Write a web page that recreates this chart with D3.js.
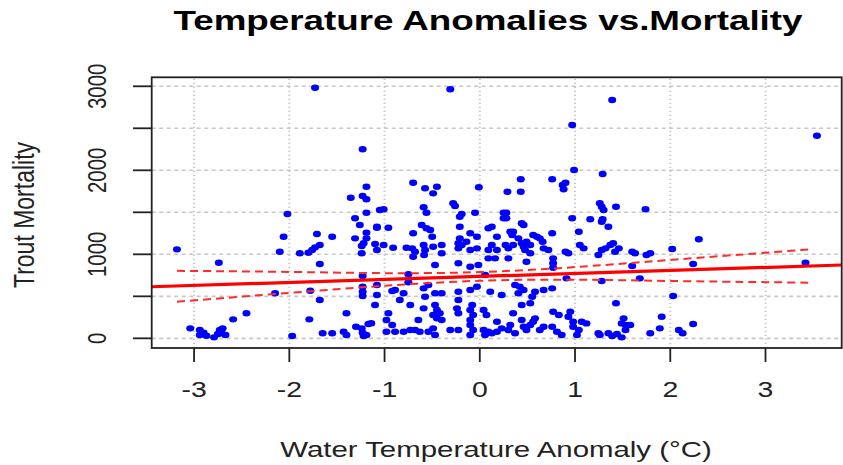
<!DOCTYPE html>
<meta charset="utf-8">
<html>
<head>
<style>
  body { margin: 0; background: #fff; }
  text { font-family: "Liberation Sans", Arial, sans-serif; fill: #000; }
</style>
</head>
<body>
<div id="chart"></div>
<script src="https://d3js.org/d3.v7.min.js"></script>
<script>

  var anomaly = [
    -1.73, -1.23, -1.19, -1.355, -1.23, -1.19, -1.19, -2.02, -1.31, -1.05,
    -0.31, 0.97, 1.39, 0.99, 1.29, -0.70, -0.575, -0.49, -0.45, -0.01,
    0.29, 0.43, 0.43, 0.76, 0.87, 0.88, 0.90, -1.01, -0.59, -0.56,
    -0.28, -0.26, -0.19, -0.21, -0.05, 0.25, 0.28, 0.25, 0.28, 0.97,
    1.16, 1.26, 1.28, 1.30, 3.54, 1.43, 1.74, 1.29, -1.26, -1.08,
    -1.19, -1.31, -1.19, -1.22, -1.24, -1.10, -1.08, -1.24, -1.71, -1.55,
    -2.06, -2.10, -1.89, -1.80, -1.76, -1.73, -1.68, -1.68, -3.18, -2.74,
    -1.23, -1.23, -1.23, -1.23, -1.08, -1.10, -2.15, -1.78, -1.68, -2.45,
    -2.59, -3.04, -2.94, -2.90, -2.94, -2.87, -2.79, -2.73, -2.70, -2.75,
    -2.67, -2.71, -1.97, -1.79, -1.40, -1.65, -1.55, -1.43, -1.40, -1.30,
    -1.24, -1.17, -1.23, -1.19, -1.22, -1.08, -0.96, -0.70, -0.61, -0.56,
    -0.52, -0.50, -1.01, -0.91, -0.77, -0.71, -0.68, -0.70, -0.59, -0.575,
    -0.585, -0.49, -0.40, -0.40, -0.47, -0.225, -0.19, -0.14, -0.225, -0.21,
    -0.10, -0.03, -0.21, -0.10, -0.03, -0.225, -0.10, 0.09, 0.09, 0.09,
    -0.015, 0.056, -0.75, -0.75, -1.08, -0.92, -0.89, -0.80, -0.59, -0.54,
    -0.47, -0.40, -0.575, -0.225, -0.10, -0.03, -0.225, -0.84, -0.73, -0.59,
    -0.47, -0.45, -0.42, -0.49, -0.45, -0.40, -0.24, -0.225, -0.08, -0.10,
    -0.07, -0.10, 0.04, 0.07, -0.96, -0.98, -0.92, -0.98, -0.89, -0.80,
    -0.73, -0.68, -0.63, -0.54, -0.49, -0.47, -0.645, -0.31, -0.225, -0.10,
    -0.07, -0.10, 0.04, 0.09, 0.055, 0.126, -1.14, 0.126, 0.44, 0.46,
    0.32, 0.35, 0.34, 0.18, 0.126, 0.27, 0.30, 0.35, 0.18, 0.16,
    0.405, 0.44, 0.46, 0.49, 0.53, 0.475, 0.56, 0.60, 0.63, 0.66,
    0.76, 0.67, 0.72, 0.53, 0.30, 0.49, 0.77, 0.77, 0.77, 1.04,
    1.28, 1.35, 1.05, 1.09, 0.90, 0.93, 1.28, 1.32, 1.37, 1.40,
    1.245, 0.91, 1.28, 0.11, 0.23, 0.37, 0.42, 0.46, 0.405, 0.58,
    0.67, 0.76, 0.44, 0.53, 0.55, 0.35, 0.18, 0.23, 0.18, 0.32,
    0.30, 0.37, 0.44, 0.46, 0.49, 0.53, 0.58, 0.56, 0.63, 0.67,
    0.77, 0.83, 0.76, 0.81, 0.86, 0.95, 0.93, 0.98, 0.98, 1.04,
    1.02, 1.07, 1.12, 1.245, 1.35, 2.30, 1.46, 1.42, 1.60, 1.63,
    1.75, 1.79, 2.02, 1.60, 1.68, 2.24, 3.42, 2.03, 1.43, 1.51,
    1.49, 1.53, 1.58, 1.53, 1.26, 1.39, 1.44, 1.49, 1.79, 1.89,
    1.91, 2.09, 2.13, 2.24
  ];

  // Trout mortality for the same observations
  var mortality = [
    2983, 2250, 1805, 1674, 1694, 1655, 1495, 1480, 1429, 1527,
    2964, 2539, 2837, 2004, 1956, 1852, 1786, 1726, 1805, 1798,
    1745, 1893, 1745, 1893, 1825, 1774, 1852, 1536, 1560, 1495,
    1607, 1575, 1480, 1448, 1495, 1495, 1495, 1429, 1429, 1429,
    1417, 1607, 1567, 1527, 2412, 1567, 1536, 1417, 1349, 1329,
    1257, 1190, 1190, 1131, 1099, 1123, 1051, 1012, 1242, 1210,
    1210, 1031, 1012, 1019, 1051, 1083, 1111, 885, 1059, 900,
    742, 614, 555, 504, 516, 396, 536, 567, 456, 298,
    226, 119, 99, 67, 39, 31, 12, 99, 119, 51,
    39, 60, 27, 226, 298, 60, 60, 79, 39, 138,
    119, 170, 67, 39, 27, 1317, 1317, 1250, 1349, 1310,
    1289, 1210, 1111, 1079, 1079, 1071, 1031, 971, 1111, 1051,
    992, 1091, 1111, 1012, 873, 1131, 1111, 1150, 1071, 1190,
    1250, 1210, 1329, 1051, 1071, 893, 852, 1310, 1051, 952,
    873, 754, 762, 667, 635, 563, 575, 536, 595, 635,
    536, 536, 495, 555, 575, 614, 456, 456, 396, 357,
    396, 337, 298, 277, 238, 218, 357, 298, 396, 337,
    277, 218, 337, 277, 298, 218, 158, 79, 79, 79,
    99, 99, 79, 79, 119, 39, 218, 99, 99, 158,
    99, 39, 99, 79, 39, 60, 180, 1329, 1369, 1349,
    1269, 1269, 1230, 1210, 1111, 1111, 1071, 1111, 1051, 952,
    1190, 1131, 1091, 1150, 1111, 1051, 1230, 1210, 1190, 1150,
    1250, 1071, 1051, 1012, 952, 912, 952, 893, 840, 1269,
    1388, 1329, 1111, 1071, 1031, 1012, 1051, 1071, 1111, 1131,
    992, 714, 682, 555, 516, 635, 614, 575, 536, 555,
    575, 595, 396, 417, 495, 298, 198, 119, 79, 158,
    99, 60, 218, 138, 99, 158, 238, 198, 99, 138,
    317, 277, 138, 79, 39, 317, 257, 198, 138, 99,
    39, 198, 178, 60, 60, 1179, 1071, 1031, 1031, 1012,
    992, 1012, 1063, 861, 714, 885, 900, 504, 417, 238,
    178, 158, 158, 99, 39, 27, 51, 12, 60, 119,
    257, 99, 60, 170
  ];

  var xTicks = [-3, -2, -1, 0, 1, 2, 3];
  var yTicks = [0, 500, 1000, 1500, 2000, 2500, 3000];
  var yLabels = [0, 1000, 2000, 3000];

  // fitted line and its confidence band
  var fitIntercept = 737, fitSlope = 35.7;
  var bandX     = [-3.18, -2, -1, 0, 1, 2, 3, 3.5];
  var bandUpper = [803, 791, 776, 789, 848, 933, 1019, 1062];
  var bandLower = [436, 541, 626, 685, 698, 683, 669, 662];

  var W = 843, H = 465;
  var sx = 1.29;   // the picture is stretched sideways, text too

  var svg = d3.select("#chart")
    .append("svg")
      .attr("width", W)
      .attr("height", H);

  svg.append("rect").attr("width", W).attr("height", H).attr("fill", "#fff");

  var x = d3.scaleLinear().domain([-3.445, 3.80]).range([151.7, 841.7]);
  var y = d3.scaleLinear().domain([-115, 3107]).range([348, 77.3]);

  // grid
  svg.append("g").selectAll("line").data(yTicks).enter().append("line")
    .attr("x1", x.range()[0]).attr("x2", x.range()[1])
    .attr("y1", function(d) { return y(d); }).attr("y2", function(d) { return y(d); })
    .attr("stroke", "#c8c8c8").attr("stroke-width", 1.6)
    .attr("stroke-dasharray", "4,3.5");

  svg.append("g").selectAll("line").data(xTicks).enter().append("line")
    .attr("x1", function(d) { return x(d); }).attr("x2", function(d) { return x(d); })
    .attr("y1", y.range()[0]).attr("y2", y.range()[1])
    .attr("stroke", "#c8c8c8").attr("stroke-width", 2)
    .attr("stroke-dasharray", "1.3,2.7");

  // points
  var pts = anomaly.map(function(d, i) { return {a: d, m: mortality[i]}; });
  svg.append("g").selectAll("ellipse").data(pts).enter().append("ellipse")
    .attr("cx", function(d) { return x(d.a); })
    .attr("cy", function(d) { return y(d.m); })
    .attr("rx", 4).attr("ry", 3.2)
    .attr("fill", "#0000ff");

  // regression line
  var xd = x.domain();
  svg.append("line")
    .attr("x1", x(xd[0])).attr("y1", y(fitIntercept + fitSlope * xd[0]))
    .attr("x2", x(xd[1])).attr("y2", y(fitIntercept + fitSlope * xd[1]))
    .attr("stroke", "#ff0000").attr("stroke-width", 3.2);

  // confidence band
  [bandUpper, bandLower].forEach(function(arr) {
    svg.append("path")
      .datum(bandX.map(function(d, i) { return [d, arr[i]]; }))
      .attr("fill", "none")
      .attr("stroke", "#ff2a2a")
      .attr("stroke-width", 2)
      .attr("stroke-dasharray", "8,5")
      .attr("d", d3.line()
        .x(function(d) { return x(d[0]); })
        .y(function(d) { return y(d[1]); })
        .curve(d3.curveNatural));
  });

  // box
  svg.append("rect")
    .attr("x", x.range()[0]).attr("y", y.range()[1])
    .attr("width", x.range()[1] - x.range()[0])
    .attr("height", y.range()[0] - y.range()[1])
    .attr("fill", "none").attr("stroke", "#222").attr("stroke-width", 1.8);

  // axes ticks
  svg.append("g").selectAll("line").data(xTicks).enter().append("line")
    .attr("x1", function(d) { return x(d); }).attr("x2", function(d) { return x(d); })
    .attr("y1", 348).attr("y2", 362)
    .attr("stroke", "#222").attr("stroke-width", 1.8);

  svg.append("g").selectAll("line").data(yTicks).enter().append("line")
    .attr("x1", 151.7).attr("x2", 133)
    .attr("y1", function(d) { return y(d); }).attr("y2", function(d) { return y(d); })
    .attr("stroke", "#222").attr("stroke-width", 1.8);

  function label(px, py, str, size, bold, rot) {
    svg.append("g")
      .attr("transform", "translate(" + px + "," + py + ") scale(" + sx + ",1)" + (rot ? " rotate(-90)" : ""))
      .append("text")
        .attr("text-anchor", "middle")
        .style("font-size", size + "px")
        .style("font-weight", bold ? "bold" : "normal")
        .style("fill", bold ? "#000" : "#222")
        .text(str);
  }

  xTicks.forEach(function(d) { label(x(d), 397, d, 22); });
  yLabels.forEach(function(d) { label(106, y(d), d, 20.5, false, true); });

  label(488, 30, "Temperature Anomalies vs.Mortality", 28.5, true);
  label(496, 457, "Water Temperature Anomaly (°C)", 22.8);
  label(34, 215, "Trout Mortality", 23, false, true);

</script>
</body>
</html>
